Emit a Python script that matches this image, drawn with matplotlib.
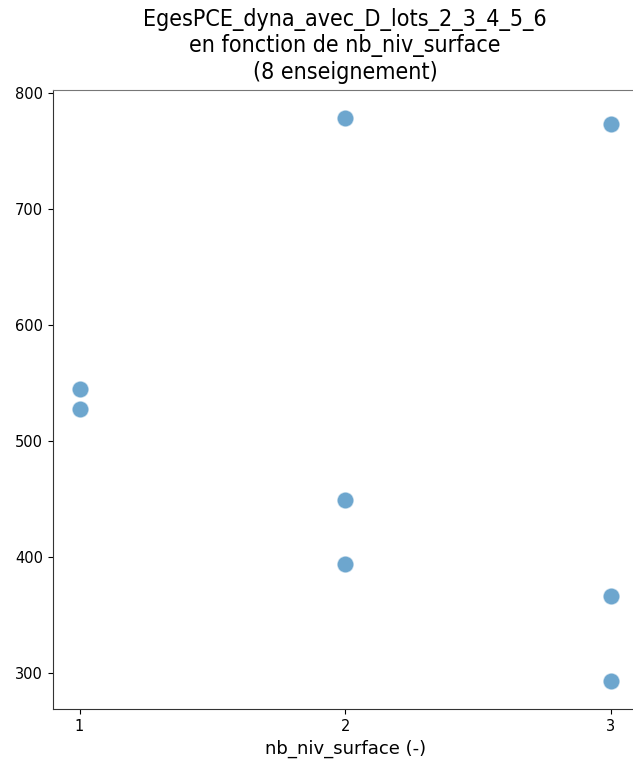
import matplotlib
matplotlib.use("Agg")
import matplotlib.pyplot as plt

nb_niv_surface = [1, 1, 2, 2, 2, 3, 3, 3]
eges_pce = [545, 527, 778, 449, 394, 773, 366, 293]

fig = plt.figure(figsize=(6.33, 7.61), dpi=100)
ax = fig.add_axes([0.0837, 0.0683, 0.9233, 0.8134])
ax.scatter(nb_niv_surface, eges_pce, s=150, color="#1f77b4", alpha=0.65,
           edgecolors="white", linewidths=1, zorder=3)
ax.set_xticks([1, 2, 3])
ax.set_yticks([300, 400, 500, 600, 700, 800])
ax.tick_params(labelsize=10.5)
for sp in ax.spines.values():
    sp.set_color("#333333")
ax.spines["top"].set_color("#777777")
ax.set_xlabel("nb_niv_surface (-)", fontsize=13, labelpad=4)
ax.set_title("EgesPCE_dyna_avec_D_lots_2_3_4_5_6\nen fonction de nb_niv_surface\n(8 enseignement)",
             fontsize=16.7, fontstretch="condensed", pad=8)
fig.savefig("out.png", dpi=100)
